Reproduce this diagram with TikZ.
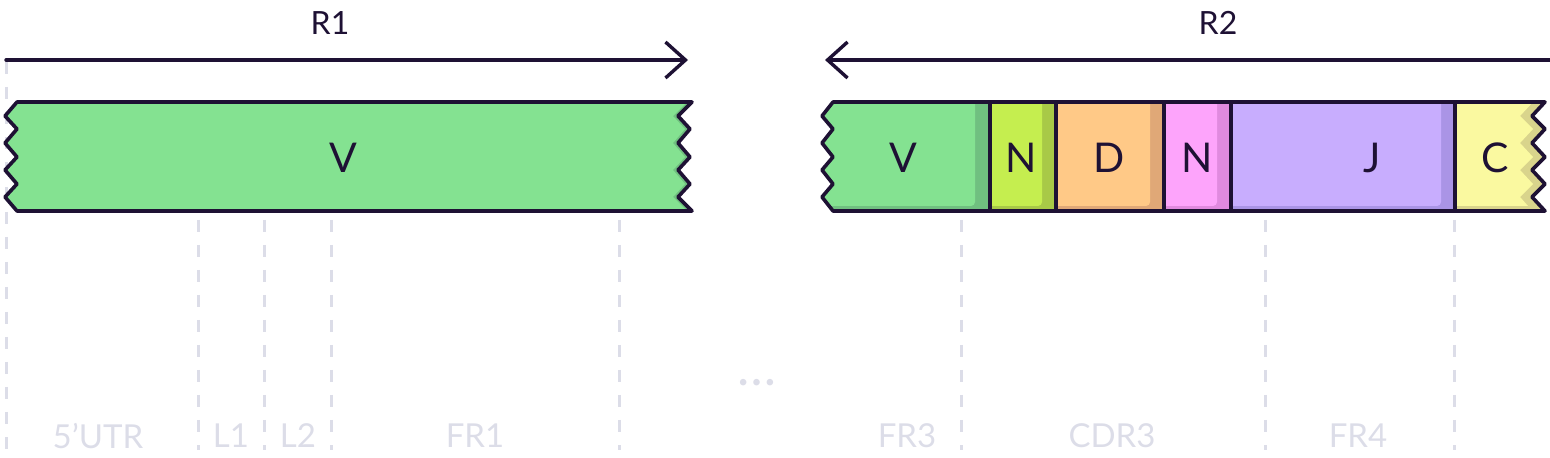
\documentclass[tikz,border=0pt]{standalone}
\usepackage{fontspec}
\setmainfont{Lato}
\usetikzlibrary{arrows.meta}
\definecolor{ink}{HTML}{1E1134}
\definecolor{guide}{HTML}{DCDDE8}
\definecolor{vL}{HTML}{84E291}
\definecolor{vD}{HTML}{70C080}
\definecolor{nL}{HTML}{C5EE4F}
\definecolor{nD}{HTML}{A8C947}
\definecolor{dL}{HTML}{FFC987}
\definecolor{dD}{HTML}{E0A877}
\definecolor{pL}{HTML}{FDA4FB}
\definecolor{pD}{HTML}{E08ADF}
\definecolor{jL}{HTML}{C8ADFE}
\definecolor{jD}{HTML}{AA94E6}
\definecolor{cL}{HTML}{FAF9A0}
\definecolor{cD}{HTML}{D9D48C}
% outlines of the three cut pieces
\newcommand{\lgene}{(17,102) -- (692,102) -- (678,116) -- (690,129) -- (678,143)
  -- (690,157) -- (678,170) -- (690,184) -- (678,197) -- (692,211) -- (17,211)
  -- (5,197) -- (17,184) -- (5,170) -- (17,157) -- (5,143) -- (17,129) -- (5,116) -- cycle}
\newcommand{\vgene}{(833,102) -- (990,102) -- (990,211) -- (833,211) -- (822,197)
  -- (833,184) -- (822,170) -- (833,157) -- (822,143) -- (833,129) -- (822,116) -- cycle}
\newcommand{\cgene}{(1455,102) -- (1545,102) -- (1532,116) -- (1545,129) -- (1532,143)
  -- (1545,157) -- (1532,170) -- (1545,184) -- (1532,197) -- (1545,211) -- (1455,211) -- cycle}
\begin{document}
\begin{tikzpicture}[x=0.5pt, y=-0.5pt,
    every node/.style = {inner sep=0pt, text=ink, font=\fontsize{20.5}{20.5}\selectfont},
    guide/.style = {draw=guide, line width=1.5pt, dash pattern=on 6pt off 6.5pt},
    gene/.style = {draw=ink, line width=1.8pt, line join=round},
    span/.style = {draw=ink, line width=1.7pt, line cap=round, line join=round,
      -{Straight Barb[length=10pt, width=18pt]}},
    strand/.style = {font=\fontsize{16}{16}\selectfont},
    region/.style = {text=guide, font=\fontsize{16.5}{16.5}\selectfont}]
  \useasboundingbox (0,0) rectangle (1550,458);
  % guides
  \draw[guide] (6,62) -- (6,450);
  \foreach \gx in {198,264,331,619,961,1265,1454}
    \draw[guide] (\gx,220) -- (\gx,450);
  % read arrows
  \node[strand] (r1) at (330,23) {R1};
  \node[strand] (r2) at (1218,23) {R2};
  \coordinate (r1from) at (6,60);
  \coordinate (r1to) at (688,60);
  \coordinate (r2from) at (1551,60);
  \coordinate (r2to) at (825,60);
  \draw[span] (r1from) -- (r1to);
  \draw[span] (r2from) -- (r2to);
  % left piece
  \begin{scope}
    \clip \lgene;
    \fill[vD] (0,90) rectangle (700,220);
    \fill[vL] (0,90) -- (687,90) -- (687,102) -- (673,116) -- (685,129) -- (673,143)
      -- (685,157) -- (673,170) -- (685,184) -- (673,197) -- (687,211) -- (687,220)
      -- (0,220) -- cycle;
  \end{scope}
  \draw[gene] \lgene;
  % right piece
  \begin{scope}
    \clip \vgene;
    \fill[vD] (810,90) rectangle (990,220);
    \fill[vL, rounded corners=2pt] (810,90) rectangle (975,206);
  \end{scope}
  \foreach \l/\r/\cl/\cd in {990/1056/nL/nD, 1056/1164/dL/dD, 1164/1231/pL/pD, 1231/1455/jL/jD}{
    \begin{scope}
      \clip (\l,102) rectangle (\r,211);
      \fill[\cd] (\l,102) rectangle (\r,211);
      \fill[\cl, rounded corners=2pt] (\l-10,90) rectangle (\r-14,206);
    \end{scope}
  }
  \begin{scope}
    \clip \cgene;
    \fill[cD] (1450,90) rectangle (1550,220);
    \fill[cL] (1440,90) -- (1533,90) -- (1533,102) -- (1520,116) -- (1533,129) -- (1520,143)
      -- (1533,157) -- (1520,170) -- (1533,184) -- (1520,197) -- (1528,206) -- (1440,206) -- cycle;
  \end{scope}
  \draw[gene] (833,102) -- (1545,102) -- (1532,116) -- (1545,129) -- (1532,143)
    -- (1545,157) -- (1532,170) -- (1545,184) -- (1532,197) -- (1545,211) -- (833,211)
    -- (822,197) -- (833,184) -- (822,170) -- (833,157) -- (822,143) -- (833,129)
    -- (822,116) -- cycle;
  \foreach \sx in {990,1056,1164,1231,1455}
    \draw[gene] (\sx,102) -- (\sx,211);
  % segment letters
  \node (v1) at (343,158) {V};
  \node (v2) at (903,158) {V};
  \node (n1) at (1021,158) {N};
  \node (d) at (1109,158) {D};
  \node (n2) at (1197,158) {N};
  \node (j) at (1372,158) {J};
  \node (c) at (1495,158) {C};
  % regions
  \node[region] (utr) at (98,436) {5’UTR};
  \node[region] (l1) at (231,436) {L1};
  \node[region] (l2) at (298,436) {L2};
  \node[region] (fr1) at (475,436) {FR1};
  \node[region, font=\fontsize{26}{26}\selectfont] (gap) at (757,383) {\dots};
  \node[region] (fr3) at (907,436) {FR3};
  \node[region] (cdr3) at (1112,436) {CDR3};
  \node[region] (fr4) at (1358,436) {FR4};
\end{tikzpicture}
\end{document}
